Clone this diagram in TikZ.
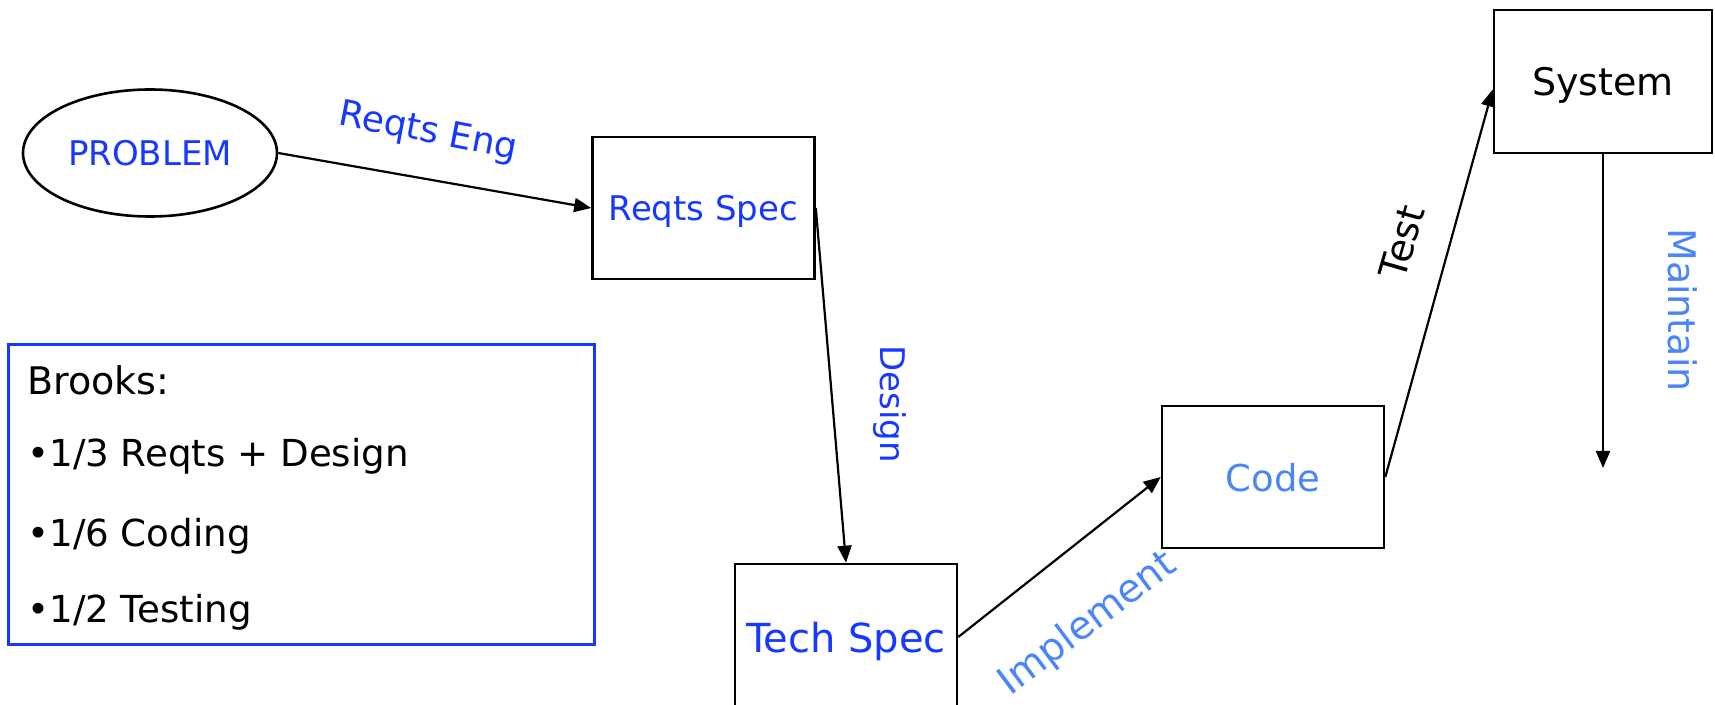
\documentclass[tikz,border=0pt]{standalone}
\usepackage{fontspec}
\setmainfont{DejaVu Sans}
\usetikzlibrary{shapes.geometric,arrows.meta}

\definecolor{deepblue}{RGB}{22,56,255}
\definecolor{softblue}{RGB}{74,134,250}

\tikzset{
  phase/.style={draw, line width=1.3pt, minimum width=111pt, minimum height=71pt, inner sep=0pt, text depth=0pt},
  flow/.style={line width=1.1pt, -{Triangle[length=8.5pt,width=7pt]}},
  tag/.style={inner sep=0pt},
}

\begin{document}
\begin{tikzpicture}[x=0.5pt,y=-0.5pt]
  \useasboundingbox (0,0) rectangle (1715,705);

  % the stages
  \node[ellipse, draw, line width=1.3pt, minimum width=127pt, minimum height=63.5pt, inner sep=0pt,
        text=deepblue, font=\fontsize{17}{20}\selectfont] (prob) at (150,153) {\raisebox{-2pt}{PROBLEM}};
  \node[phase, text=deepblue, font=\fontsize{17}{20}\selectfont] (rspec) at (703.5,208) {Reqts Spec};
  \node[phase, minimum height=73pt, text=deepblue, font=\fontsize{20}{24}\selectfont] (tspec) at (846,637) {Tech Spec};
  \node[phase, text=softblue, font=\fontsize{18.5}{22}\selectfont] (code) at (1273,477) {Code};
  \node[phase, minimum width=109pt, minimum height=71.5pt, font=\fontsize{19}{23}\selectfont] (sys) at (1603,81.5) {System};
  \coordinate (maint) at (1603,468);

  % the arrows between them
  \draw[flow] (prob.east) -- (rspec.west);
  \draw[flow] (rspec.east) -- (tspec.north);
  \draw[flow] (tspec.east) -- (code.west);
  \draw[flow] (code.east) -- ([yshift=-4pt]sys.west);
  \draw[flow] (sys.south) -- (maint);

  % activity names
  \node[tag, rotate=-11, text=deepblue, font=\fontsize{18}{22}\selectfont] (eng) at (428,133) {Reqts Eng};
  \node[tag, rotate=-90, text=deepblue, font=\fontsize{17}{20}\selectfont] (design) at (890,404) {Design};
  \node[tag, rotate=37, text=softblue, font=\fontsize{19.5}{23}\selectfont] (impl) at (1088,624) {Implement};
  \node[tag, rotate=74, font=\fontsize{19}{23}\selectfont] (test) at (1402,242) {Test};
  \node[tag, rotate=-90, text=softblue, font=\fontsize{19}{23}\selectfont] (maintain) at (1683,310) {Maintain};

  % Brooks' split of the effort
  \node[draw=deepblue, line width=1.5pt, minimum width=293pt, minimum height=150pt, anchor=north west] (brooks) at (7,343) {};
  \node[tag, anchor=base west, font=\fontsize{19}{23}\selectfont] (b0) at (27,395) {Brooks:};
  \node[tag, anchor=base west, font=\fontsize{18.6}{22}\selectfont] (b1) at (27,467) {•1/3 Reqts + Design};
  \node[tag, anchor=base west, font=\fontsize{18.6}{22}\selectfont] (b2) at (27,547) {•1/6 Coding};
  \node[tag, anchor=base west, font=\fontsize{18.6}{22}\selectfont] (b3) at (27,623) {•1/2 Testing};
\end{tikzpicture}
\end{document}
